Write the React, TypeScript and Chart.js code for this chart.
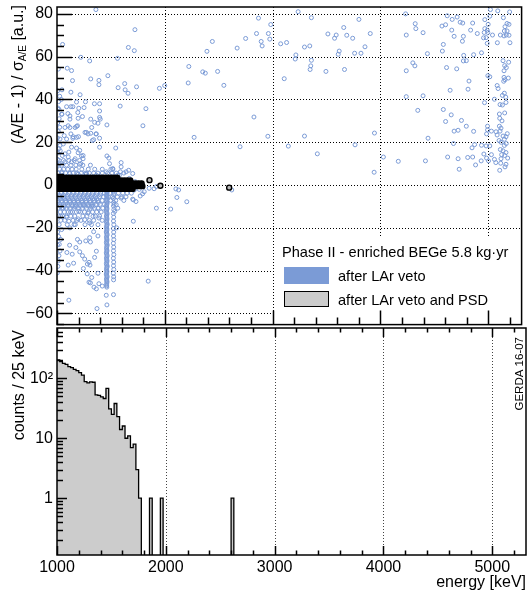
import React, { useEffect, useRef } from "react";
import { Chart, registerables } from "chart.js";

Chart.register(...registerables);

const FONT = "'Liberation Sans', Arial, Helvetica, sans-serif";
const VETO_BLUE = "#7b9bd6";
const PSD_GRAY = "#cccccc";

// ---------- axes ----------
const energyMin = 1000;
const energyMax = 5310;
const energyTicks = [1000, 2000, 3000, 4000, 5000];
const aoeMin = -65.2;
const aoeMax = 83.2;
const aoeTicks = [-60, -40, -20, 0, 20, 40, 60, 80];
const countMin = 0.113;
const countMax = 690;
const countTicks = [1, 10, 100];
const countTickLabels = ["1", "10", "10\u00b2"];

// ---------- histogram (after LAr veto and PSD), 25 keV bins ----------
const histBinWidth = 25;
const psdHistStart = 1000;
const psdHistCounts = [202, 189, 178, 171, 156, 151, 141, 134, 124, 113, 88, 84, 87, 86, 53, 52, 49, 46, 68, 31, 25, 38, 23, 14, 16, 10, 11, 7, 8, 3, 1];
const psdLateBins = [1850, 1950, 2600];
const psdLateCounts = [1, 1, 1];

// ---------- events surviving LAr veto and PSD (black) ----------
const psdBandA = [3.4, 2.1, 0.8, -0.5, -1.8];
const psdBandE = [
  [1003, 1031, 1058, 1086, 1114, 1142, 1170, 1197, 1225, 1253, 1281, 1309, 1336, 1364, 1392, 1420, 1448, 1475, 1503, 1531, 1559],
  [1010, 1038, 1066, 1094, 1122, 1150, 1177, 1205, 1233, 1261, 1289, 1317, 1345, 1372, 1400, 1428, 1456, 1484, 1512, 1540, 1568, 1596, 1624, 1652, 1680],
  [1004, 1032, 1060, 1088, 1116, 1144, 1171, 1199, 1227, 1255, 1283, 1311, 1339, 1366, 1394, 1422, 1450, 1478, 1506, 1534, 1562, 1590, 1618, 1646, 1674, 1702, 1730, 1758, 1785],
  [1011, 1039, 1067, 1095, 1123, 1151, 1178, 1206, 1234, 1262, 1290, 1318, 1346, 1373, 1401, 1429, 1457, 1485, 1513, 1541, 1569, 1597, 1625, 1653, 1681, 1709, 1737, 1765, 1792],
  [1003, 1031, 1059, 1087, 1115, 1143, 1170, 1198, 1226, 1254, 1282, 1310, 1338, 1365, 1393, 1421, 1449, 1477, 1505, 1533, 1561, 1589, 1617, 1645, 1673, 1701],
];
const psdIsolated: [number, number][] = [[1858, 2.3], [1959, -0.3], [2597, -1.2]];

// ---------- events after LAr veto (blue) ----------
const vetoHighEnergy: [number, number][] = [
  [2869, 78], [2983, 75], [2851, 70.8], [2961, 70.8], [2974, 68.2], [2894, 67.1], [2903, 65], [2750, 68.5], [2671, 64],
  [2441, 67.1], [2391, 62.5], [3075, 66], [3130, 66.6], [2223, 55.4], [2352, 52.9], [2376, 52.3], [2490, 53.1], [2217, 47.7],
  [2548, 46.6], [1999, 46.5], [3108, 49.7], [2827, 31.8], [2272, 22.3], [2956, 22.8], [2698, 17.9], [3146, 18.2],
  [2103, -1.8], [2128, -2.3], [2112, -5.8], [2204, -7.8], [2055, -11.2], [2621, -2.3],
  [3237, 81], [3360, 78.2], [3801, 77.4], [3660, 73.6], [3513, 70.6], [3590, 70.1], [3575, 68.6], [3688, 70], [3743, 68.6],
  [3906, 70.8], [3857, 64.6], [3296, 64.5], [3345, 65], [3216, 60.8], [3210, 58.9], [3360, 58.3], [3354, 55.7], [3348, 54],
  [3495, 53.1], [3667, 54], [3618, 62.6], [3609, 61.1], [3761, 61.6], [3820, 61.6], [3296, 22.9], [3945, 24.3], [3415, 14.6],
  [3765, 18.8], [4028, 13.1], [3942, 6],
  [4234, 80], [4620, 79.1], [4666, 77.4], [4712, 78.5], [4740, 76.1], [4764, 75.7], [4856, 75.7], [4323, 75.4], [4329, 73.1],
  [4571, 74.3], [4605, 74.9], [4396, 71.2], [4662, 72.4], [4684, 69.5], [4770, 69.5], [4761, 67.2], [4837, 72.4], [4899, 70.8],
  [4240, 70.1], [4584, 65.7], [4575, 62.6], [4436, 61.4], [4773, 60.6], [4865, 60.9], [4938, 61.8], [4770, 58], [4797, 58.1],
  [4301, 57.1], [4320, 55.7], [4240, 53.4], [4614, 54.9], [4708, 54.3], [4822, 48.6], [4647, 44.3], [4813, 44.8], [4240, 41.3],
  [4396, 41.7], [4347, 34.9], [4584, 35.3], [4657, 32.8], [4605, 29.7], [4752, 30.2], [4797, 27.5], [4684, 25.2], [4721, 25.6],
  [4865, 25.1], [4442, 21.9], [4678, 19.4], [4850, 17.4], [4874, 18.9], [4938, 18.6], [4166, 11.1], [4418, 11.3], [4624, 13.1],
  [4721, 12.3], [4810, 12.9], [4856, 13.1], [4731, 7.4], [4883, 9.4], [4935, 11.3], [4960, 14.5],
  [5021, 82], [5089, 81.4], [5199, 80.9], [5015, 78.9], [5141, 78.2], [4969, 77.3], [5000, 75.1], [5175, 75.5], [5193, 75.1],
  [5156, 74], [4969, 73.1], [4991, 72.3], [4963, 71.3], [4997, 71.3], [5040, 70.1], [5113, 70.1], [5150, 72], [5175, 72],
  [5168, 70.1], [5193, 70], [5147, 69.7], [4957, 68.8], [4981, 68.9], [4991, 66.2], [5085, 66.5], [5202, 66.5], [5138, 58.1],
  [5190, 57.4], [5153, 55.8], [5168, 54.9], [5147, 53.4], [4997, 51.1], [5015, 50.6], [5147, 50.3], [5187, 50], [5156, 49.2],
  [5144, 48.5], [5083, 46.5], [5092, 45.1], [5150, 42.9], [5132, 41.9], [5163, 41.1], [5058, 40.1], [4966, 38.5], [5165, 38.6],
  [5110, 37.6], [5132, 37.4], [5104, 33.2], [5153, 33.7], [5107, 31.2], [5128, 30], [4994, 27.5], [5104, 27.5], [5119, 26.6],
  [4994, 25.8], [5030, 25.2], [5073, 24.9], [5110, 25.2], [5177, 24], [4985, 23.9], [5083, 23.4], [5138, 22.9], [5165, 22.6],
  [5150, 21.4], [5101, 20.8], [5119, 20], [5168, 19.4], [4981, 18.3], [5015, 18.3], [5150, 18.5], [5113, 16.6], [5138, 16],
  [5165, 15.2], [5030, 14.2], [5125, 14.2], [5153, 13.8], [5181, 12.6], [4985, 12.6], [5058, 12], [5119, 12.3], [5003, 11.3],
  [5071, 10.5], [5116, 10.2], [5165, 9.7], [5156, 8.5], [5107, 6.9],
];

const vetoLowEnergy: [number, number][] = [
  [1361, 82], [1052, 65.7], [1723, 72.6], [1662, 64.3], [1717, 62.8], [1221, 59.7], [1561, 59.2], [1303, 58], [1095, 54.6],
  [1135, 53.5], [1012, 54.2], [1313, 49.6], [1389, 48.9], [1389, 46.9], [1472, 51.1], [1144, 48.8], [1628, 47.4], [1567, 45.5],
  [1632, 44.5], [1659, 42.9], [1738, 45.9], [1129, 43.4], [1046, 44.5], [1214, 42.2], [1950, 45.2], [1825, 35.7], [1586, 36.9],
  [1347, 38], [1395, 38], [1040, 40], [1181, 38.8], [1264, 38.9], [1797, 27.7], [1463, 28.1], [1395, 31.6], [1313, 30.8],
  [1322, 26.9], [1361, 23.9], [1395, 21.9], [1340, 21.2], [1260, 24.6], [1288, 23.9], [1199, 22.6], [1147, 21.9], [1193, 33.9],
  [1236, 32], [1147, 36.6], [1101, 33.4], [1046, 33.1], [1120, 30.8], [1074, 26.9], [1120, 26.9], [1181, 27.4], [1028, 21.5],
  [1089, 21.5], [1395, 17.7], [1545, 17.3], [1463, 13.6], [1481, 12.6], [1595, 10.5], [1181, 17.3], [1196, 15.1], [1227, 13.6],
  [1242, 12.3], [1110, 15.4], [1135, 10.8], [1209, 9.7], [1049, 13.8], [1074, 10.8], [1518, 7.4], [1665, 6.9], [1273, 5.1],
  [1457, 6.2], [1588, 6.2], [1025, 41.5], [1089, 36.6], [1129, 36.6], [1018, 35.4], [1202, 35.9], [1251, 36.2], [1043, 33.1],
  [1120, 32.3], [1196, 31.2], [1395, 34.6], [1401, 30.8], [1380, 28.9], [1349, 29.3], [1104, 27.7], [1168, 26.9], [1190, 27.7],
  [1273, 24.6], [1313, 24.2], [1365, 23.9], [1067, 23.1], [1129, 23.9], [1150, 22.6], [1181, 22.3], [1328, 20.8], [1028, 18.5],
  [1058, 19.2], [1135, 17.7], [1211, 16.2], [1242, 13.8], [1074, 14.6], [1104, 13.1], [1168, 12.3], [1221, 10], [1487, 10],
  [1518, 7.7], [1595, 8.5], [1641, 6.2], [1702, 5.4], [1273, 5.4], [1365, 4.6], [1564, 4.6], [1043, 6.2], [1120, 5.4],
  [1196, 5.1], [1579, 4.6], [1671, 3.1], [1726, 1.6],
  [1005, 44], [1015, 39], [1008, 36], [1020, 31], [1006, 29], [1012, 25], [1025, 27], [1004, 22], [1018, 17], [1008, 15],
  [1030, 16], [1005, 12], [1022, 10],
  [1763, -2], [1794, -4.1], [1702, -6.6], [1733, -7.7], [1922, -10.8], [1708, -16.9], [1846, -44.9], [1110, -53.8],
  [1371, -57.7], [1463, -56], [1524, -51.2], [1457, -51.5], [1554, -20], [1536, -12.3], [1310, -45.7], [1365, -48.5],
  [1389, -46.1], [1322, -43.2], [1380, -41.2], [1420, -47.2], [1104, -37.4], [1154, -36.5], [1092, -31.5], [1141, -32.3],
  [1117, -28.1], [1175, -29.2], [1211, -31.2], [1236, -33], [1257, -34.6], [1282, -36.9], [1297, -36.1], [1306, -37.4],
  [1349, -33.8], [1365, -30.9], [1190, -25.4], [1211, -26.6], [1267, -26.1], [1303, -24.6], [1340, -21.8], [1380, -23.8],
  [1310, -26.6], [1034, -25.4], [1043, -20.8], [1034, -14.6], [1089, -15], [1110, -16.9], [1159, -18.5], [1120, -20],
  [1196, -15.8], [1257, -16.2], [1303, -17.7], [1334, -14.6], [1389, -15.4], [1288, -13.1], [1202, -12.3], [1126, -12.6],
  [1058, -10.8], [1168, -10], [1242, -9.2], [1319, -10], [1380, -10.8], [1564, -10.8], [1595, -6.1], [1549, -9.2],
  [1717, -2.3], [1809, -3.1], [1772, -5.1], [1708, -6.9], [1855, -1.5], [1922, -0.7], [1901, -1.7],
  [1021, -27.7], [1028, -30.8], [1012, -35.4], [1297, -45.4], [1343, -47.7], [1245, -39], [1280, -41.5],
  [1006, -22], [1015, -24], [1005, -28], [1018, -33], [1008, -38], [1003, -41],
];

const vetoK40Line: [number, number][] = [
  [1458, -2.5], [1465, -3.6], [1459, -4.8], [1464, -6.1], [1457, -7.3], [1466, -8.4], [1460, -9.7], [1463, -10.9],
  [1457, -12.2], [1465, -13.4], [1459, -14.5], [1464, -15.8], [1458, -17], [1466, -18.3], [1460, -19.5], [1463, -20.6],
  [1457, -21.9], [1465, -23.1], [1459, -24.4], [1464, -25.6], [1458, -26.8], [1466, -28], [1460, -29.3], [1463, -30.5],
  [1457, -31.7], [1465, -33], [1459, -34.2], [1464, -35.4], [1458, -36.7], [1466, -37.9], [1460, -39.1], [1463, -40.3],
  [1457, -41.6], [1465, -42.8], [1459, -44], [1464, -45.2], [1460, -46.5], [1462, -47.7],
  [1461, -3.1], [1462, -4.2], [1461, -5.4], [1462, -6.7], [1461, -7.9], [1462, -9.1], [1461, -10.3], [1462, -11.5],
  [1461, -12.8], [1462, -14], [1461, -15.2], [1462, -16.4], [1461, -17.6], [1462, -18.9], [1461, -20.1], [1462, -21.3],
  [1461, -22.5], [1462, -23.7], [1461, -25], [1462, -26.2], [1461, -27.4], [1462, -28.6], [1461, -29.9], [1462, -31.1],
  [1461, -32.3], [1462, -33.6], [1461, -34.8], [1462, -36], [1461, -37.3], [1462, -38.5], [1461, -39.7], [1462, -41],
  [1461, -42.2], [1462, -43.4], [1461, -44.6], [1462, -45.8], [1461, -47.1],
];

const vetoK42Line: [number, number][] = [
  [1524, -2.8], [1527, -4.6], [1523, -6.3], [1526, -8.1], [1524, -9.8], [1527, -11.5], [1523, -13.3], [1526, -15],
  [1524, -16.8], [1527, -18.5], [1523, -20.3], [1526, -22], [1524, -23.8], [1527, -25.5], [1523, -27.2], [1526, -29],
  [1524, -30.7], [1527, -32.5], [1523, -34.2], [1526, -36], [1524, -37.7], [1527, -39.4], [1523, -41.2], [1526, -42.9],
  [1525, -44.3],
];

const vetoDenseA = [11.5, 9.3, 7.4, 5.6, -3.8, -4.6, -5.5, -6.4, -7.2, -8.1, -9.0, -9.9, -10.8, -12.6, -14.5, -16.5, -18.5];
const vetoDenseE = [
  [1020, 1060, 1110, 1160, 1210],
  [1005, 1045, 1088, 1130, 1175, 1240, 1310],
  [1025, 1062, 1100, 1140, 1178, 1230, 1290, 1350, 1420, 1500],
  [1010, 1045, 1080, 1115, 1150, 1185, 1225, 1262, 1300, 1340, 1380, 1420, 1470, 1510, 1550, 1620],
  [1005, 1040, 1075, 1110, 1150, 1185, 1220, 1260, 1295, 1330, 1370, 1405, 1440, 1490, 1530, 1570, 1610, 1650, 1690],
  [1022, 1060, 1098, 1136, 1174, 1212, 1250, 1288, 1326, 1364, 1402],
  [1020, 1058, 1095, 1132, 1170, 1208, 1245, 1283, 1320, 1358, 1395, 1432, 1475, 1515, 1560, 1600, 1640],
  [1028, 1066, 1104, 1142, 1180, 1218, 1256, 1294, 1332, 1370],
  [1008, 1045, 1082, 1120, 1157, 1195, 1232, 1270, 1307, 1345, 1382, 1420, 1500, 1545, 1620],
  [1005, 1043, 1081, 1119, 1157, 1195, 1233, 1271, 1309, 1347, 1385],
  [1025, 1062, 1100, 1138, 1175, 1212, 1250, 1288, 1325, 1362, 1400, 1440, 1530],
  [1030, 1068, 1106, 1144, 1182, 1220, 1258, 1296, 1334],
  [1010, 1048, 1085, 1122, 1160, 1197, 1235, 1272, 1310, 1348, 1385, 1425],
  [1030, 1068, 1105, 1143, 1180, 1218, 1255, 1293, 1330, 1368, 1410],
  [1015, 1052, 1090, 1128, 1165, 1240, 1278, 1355, 1395],
  [1035, 1072, 1148, 1185, 1222, 1300, 1340, 1420],
  [1020, 1095, 1170, 1260, 1320, 1380],
];

// ---------- builders ----------
function vetoData() {
  const pts: { x: number; y: number }[] = [];
  for (const [e, a] of [...vetoLowEnergy, ...vetoK40Line, ...vetoK42Line, ...vetoHighEnergy]) pts.push({ x: e, y: a });
  vetoDenseA.forEach((a, i) => vetoDenseE[i].forEach((e) => pts.push({ x: e, y: a })));
  return pts;
}

const psdBandCount = psdBandE.reduce((s, r) => s + r.length, 0);
function psdData() {
  const pts: { x: number; y: number }[] = [];
  psdBandA.forEach((a, i) => psdBandE[i].forEach((e) => pts.push({ x: e, y: a })));
  for (const [e, a] of psdIsolated) pts.push({ x: e, y: a });
  return pts;
}

const FLOOR = 1e-3;
function histData() {
  const pts: { x: number; y: number }[] = [];
  psdHistCounts.forEach((c, i) => {
    const s = psdHistStart + i * histBinWidth;
    pts.push({ x: s, y: c });
    pts.push({ x: s + histBinWidth, y: c });
  });
  pts.push({ x: psdHistStart + psdHistCounts.length * histBinWidth, y: FLOOR });
  psdLateBins.forEach((b, i) => {
    pts.push({ x: b, y: FLOOR });
    pts.push({ x: b, y: psdLateCounts[i] });
    pts.push({ x: b + histBinWidth, y: psdLateCounts[i] });
    pts.push({ x: b + histBinWidth, y: FLOOR });
  });
  pts.push({ x: energyMax, y: FLOOR });
  return pts;
}

function fmtSigned(v: number) {
  return v < 0 ? "\u2212" + Math.abs(v) : String(v);
}

function drawRotated(ctx: CanvasRenderingContext2D, parts: { text: string; size: number; dy: number }[], baselineX: number, topY: number) {
  ctx.save();
  const widths = parts.map((p) => {
    ctx.font = `${p.size}px ${FONT}`;
    return ctx.measureText(p.text).width;
  });
  const total = widths.reduce((s, w) => s + w, 0);
  ctx.translate(baselineX, topY + total);
  ctx.rotate(-Math.PI / 2);
  ctx.fillStyle = "#000";
  ctx.textAlign = "left";
  ctx.textBaseline = "alphabetic";
  let lx = 0;
  parts.forEach((p, i) => {
    ctx.font = `${p.size}px ${FONT}`;
    ctx.fillText(p.text, lx, p.dy);
    lx += widths[i];
  });
  ctx.restore();
}

const topDecor = {
  id: "topDecor",
  beforeDatasetsDraw(chart: any) {
    const { ctx, chartArea: ca, scales } = chart;
    const x = scales.x, y = scales.y;
    ctx.save();
    ctx.strokeStyle = "#000";
    ctx.lineWidth = 1;
    ctx.setLineDash([1, 2]);
    ctx.beginPath();
    for (const v of energyTicks) {
      if (v <= energyMin) continue;
      const px = Math.round(x.getPixelForValue(v)) + 0.5;
      ctx.moveTo(px, ca.top);
      ctx.lineTo(px, ca.bottom);
    }
    for (const v of aoeTicks) {
      const py = Math.round(y.getPixelForValue(v)) + 0.5;
      ctx.moveTo(ca.left, py);
      ctx.lineTo(ca.right, py);
    }
    ctx.stroke();
    ctx.restore();
  },
  afterDatasetsDraw(chart: any) {
    const { ctx, chartArea: ca, scales } = chart;
    const x = scales.x, y = scales.y;
    ctx.save();
    // legend
    ctx.fillStyle = "#fff";
    ctx.fillRect(276, 238, ca.right - 276, 76);
    ctx.fillStyle = "#000";
    ctx.font = `14.6px ${FONT}`;
    ctx.textBaseline = "alphabetic";
    ctx.textAlign = "left";
    ctx.fillText("Phase II - enriched BEGe 5.8 kg\u00b7yr", 282, 257);
    ctx.fillStyle = VETO_BLUE;
    ctx.fillRect(284, 267, 45, 17);
    ctx.fillStyle = PSD_GRAY;
    ctx.fillRect(284, 291, 45, 16);
    ctx.strokeStyle = "#000";
    ctx.lineWidth = 1;
    ctx.strokeRect(284.5, 291.5, 44, 15);
    ctx.fillStyle = "#000";
    ctx.fillText("after LAr veto", 338, 281);
    ctx.fillText("after LAr veto and PSD", 338, 305);
    // ticks
    ctx.strokeStyle = "#000";
    ctx.lineWidth = 1.5;
    ctx.beginPath();
    for (let v = -65; v <= 80; v += 5) {
      if (v < aoeMin || v > aoeMax) continue;
      const py = Math.round(y.getPixelForValue(v)) + 0.5;
      const len = v % 20 === 0 ? 15 : 7;
      ctx.moveTo(ca.left, py);
      ctx.lineTo(ca.left + len, py);
    }
    for (let v = 1000; v <= 5300; v += 200) {
      const px = Math.round(x.getPixelForValue(v)) + 0.5;
      const len = v % 1000 === 0 ? 14 : 7;
      ctx.moveTo(px, ca.bottom);
      ctx.lineTo(px, ca.bottom - len);
    }
    ctx.stroke();
    // frame
    ctx.lineWidth = 1.5;
    ctx.strokeRect(ca.left, ca.top, ca.right - ca.left, ca.bottom - ca.top);
    ctx.restore();
    drawRotated(ctx, [
      { text: "(A/E - 1) / \u03c3", size: 16, dy: 0 },
      { text: "A/E", size: 10, dy: 3 },
      { text: " [a.u.]", size: 16, dy: 0 },
    ], 23, 5);
  },
};

const bottomDecor = {
  id: "bottomDecor",
  beforeDatasetsDraw(chart: any) {
    const { ctx, chartArea: ca, scales } = chart;
    const x = scales.x;
    ctx.save();
    ctx.strokeStyle = "#444";
    ctx.lineWidth = 1;
    ctx.setLineDash([1, 2]);
    ctx.beginPath();
    for (const v of energyTicks) {
      if (v <= energyMin) continue;
      const px = Math.round(x.getPixelForValue(v)) + 0.5;
      ctx.moveTo(px, ca.top);
      ctx.lineTo(px, ca.bottom);
    }
    ctx.stroke();
    ctx.restore();
  },
  afterDatasetsDraw(chart: any) {
    const { ctx, chartArea: ca, scales } = chart;
    const x = scales.x, y = scales.y;
    ctx.save();
    ctx.strokeStyle = "#000";
    ctx.lineWidth = 1.5;
    ctx.beginPath();
    for (let v = 1000; v <= 5300; v += 200) {
      const px = Math.round(x.getPixelForValue(v)) + 0.5;
      const len = v % 1000 === 0 ? 9 : 4.5;
      ctx.moveTo(px, ca.top);
      ctx.lineTo(px, ca.top + len);
      ctx.moveTo(px, ca.bottom);
      ctx.lineTo(px, ca.bottom - len);
    }
    for (const dec of [0.1, 1, 10, 100]) {
      for (let k = 1; k <= 9; k++) {
        const v = k * dec;
        if (v < countMin || v > countMax) continue;
        const py = Math.round(y.getPixelForValue(v)) + 0.5;
        const len = k === 1 ? 10 : 6;
        ctx.moveTo(ca.left, py);
        ctx.lineTo(ca.left + len, py);
      }
    }
    ctx.stroke();
    ctx.strokeRect(ca.left, ca.top, ca.right - ca.left, ca.bottom - ca.top);
    ctx.fillStyle = "#000";
    ctx.font = `16px ${FONT}`;
    ctx.textAlign = "right";
    ctx.textBaseline = "alphabetic";
    ctx.fillText("energy [keV]", 526, 267);
    ctx.restore();
    drawRotated(ctx, [{ text: "counts / 25 keV", size: 16, dy: 0 }], 24, 10);
    drawRotated(ctx, [{ text: "GERDA 16-07", size: 11.5, dy: 0 }], 523, 17);
  },
};

export default function App() {
  const topRef = useRef<HTMLCanvasElement>(null);
  const botRef = useRef<HTMLCanvasElement>(null);

  useEffect(() => {
    const tickFont = { family: FONT, size: 16 };
    const top = new Chart(topRef.current!, {
      type: "scatter",
      data: {
        datasets: [
          {
            label: "after LAr veto",
            data: vetoData(),
            pointRadius: 2,
            pointBorderWidth: 1,
            pointBorderColor: VETO_BLUE,
            pointBackgroundColor: "rgba(0,0,0,0)",
            borderColor: VETO_BLUE,
            backgroundColor: "rgba(0,0,0,0)",
            order: 2,
          },
          {
            label: "after LAr veto and PSD",
            data: psdData(),
            pointRadius: 2.5,
            pointBorderWidth: 1.4,
            pointBorderColor: "#000",
            pointBackgroundColor: (c: any) => (c.dataIndex < psdBandCount ? "#000" : "#b8b8b8"),
            borderColor: "#000",
            backgroundColor: "#b8b8b8",
            order: 1,
          },
        ],
      },
      options: {
        responsive: false,
        maintainAspectRatio: false,
        animation: false,
        events: [],
        layout: { padding: { top: 7, right: 1, bottom: 2, left: 0 } },
        plugins: { legend: { display: false }, tooltip: { enabled: false } },
        scales: {
          x: { type: "linear", min: energyMin, max: energyMax, display: false },
          y: {
            type: "linear",
            min: aoeMin,
            max: aoeMax,
            afterBuildTicks: (s: any) => { s.ticks = aoeTicks.map((v) => ({ value: v })); },
            afterFit: (s: any) => { s.width = 57; s.paddingTop = 0; s.paddingBottom = 0; },
            grid: { display: false, drawTicks: false },
            border: { display: false },
            ticks: { font: tickFont, color: "#000", padding: 4, autoSkip: false, callback: (v: any) => fmtSigned(Number(v)) },
          },
        },
      },
      plugins: [topDecor],
    } as any);

    const bottom = new Chart(botRef.current!, {
      type: "line",
      data: {
        datasets: [
          {
            label: "after LAr veto and PSD",
            data: histData(),
            borderColor: "#000",
            borderWidth: 1.3,
            backgroundColor: PSD_GRAY,
            fill: "start",
            pointRadius: 0,
            tension: 0,
          },
        ],
      },
      options: {
        responsive: false,
        maintainAspectRatio: false,
        animation: false,
        events: [],
        layout: { padding: { top: 8, right: 1, bottom: 0, left: 0 } },
        plugins: { legend: { display: false }, tooltip: { enabled: false } },
        scales: {
          x: {
            type: "linear",
            min: energyMin,
            max: energyMax,
            afterBuildTicks: (s: any) => { s.ticks = energyTicks.map((v) => ({ value: v })); },
            afterFit: (s: any) => { s.height = 36; s.paddingLeft = 0; s.paddingRight = 0; },
            grid: { display: false, drawTicks: false },
            border: { display: false },
            ticks: { font: tickFont, color: "#000", padding: 3, maxRotation: 0, autoSkip: false, callback: (v: any) => String(v) },
          },
          y: {
            type: "logarithmic",
            min: countMin,
            max: countMax,
            afterBuildTicks: (s: any) => { s.ticks = countTicks.map((v) => ({ value: v })); },
            afterFit: (s: any) => { s.width = 57; s.paddingTop = 0; s.paddingBottom = 0; },
            grid: { display: false, drawTicks: false },
            border: { display: false },
            ticks: {
              font: tickFont,
              color: "#000",
              padding: 4,
              autoSkip: false,
              callback: (v: any) => {
                const i = countTicks.indexOf(Number(v));
                return i >= 0 ? countTickLabels[i] : "";
              },
            },
          },
        },
      },
      plugins: [bottomDecor],
    } as any);

    return () => {
      top.destroy();
      bottom.destroy();
    };
  }, []);

  return (
    <div style={{ position: "absolute", left: 0, top: 0, width: 527, height: 591, background: "#fff" }}>
      <canvas ref={topRef} width={527} height={330} style={{ position: "absolute", left: 0, top: 0, width: 527, height: 330 }} />
      <canvas ref={botRef} width={527} height={271} style={{ position: "absolute", left: 0, top: 320, width: 527, height: 271 }} />
    </div>
  );
}
